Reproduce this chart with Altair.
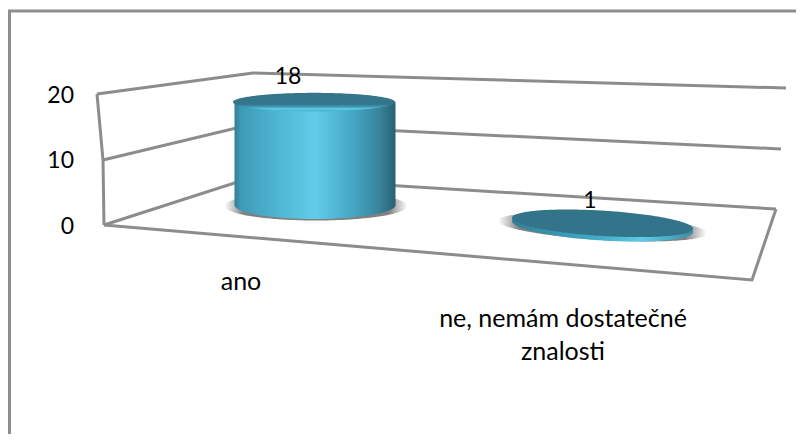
import numpy as np
import pandas as pd
import altair as alt

# chart values
categories = ["ano", "ne, nemám\u00a0dostatečné\nznalosti"]
values = [18, 1]
axis_ticks = [0, 10, 20]

W, H = 788, 426
FONT = "Lato"
LINE = "#8c8c8c"

# projected box of the 3D chart (screen pixels)
front_left = {0: (104, 225), 10: (103, 160), 20: (97, 94)}
back_left = {0: (253, 177), 10: (253, 124), 20: (253, 73)}
back_right = {0: (776, 209), 10: (781, 149), 20: (786, 88)}
front_right_floor = (752, 280)

# cylinders: centre x, base y, rx, base ry, top ry, px per unit, tilt
cyl = [
    dict(cx=315, base=205, rx=80.5, ry_b=14, ry_t=9.2, k=5.72, tilt=0.0),
    dict(cx=602.5, base=229, rx=90.5, ry_b=13.5, ry_t=13.2, k=4.2, tilt=0.06),
]

X = alt.X("x:Q", scale=alt.Scale(domain=[8, 8 + W], zero=False, nice=False), axis=None)
Y = alt.Y("y:Q", scale=alt.Scale(domain=[8 + H, 8], zero=False, nice=False), axis=None)
Y2 = alt.Y2("y2:Q")


def path_df(pts):
    return pd.DataFrame({"x": [p[0] for p in pts], "y": [p[1] for p in pts], "o": range(len(pts))})


def line(pts, color=LINE, width=3):
    return alt.Chart(path_df(pts)).mark_line(color=color, strokeWidth=width, clip=True).encode(
        x=X, y=Y, order="o:Q")


def ellipse(cx, cy, rx, ry, tilt=0.0, n=121):
    xs = cx + rx * np.cos(np.linspace(np.pi, 0, n))
    t = np.clip((xs - cx) / rx, -1, 1)
    h = ry * np.sqrt(1 - t**2)
    mid = cy + tilt * (xs - cx)
    return pd.DataFrame({"x": xs, "y": mid - h, "y2": mid + h})


def fill_area(df, color, **kw):
    return alt.Chart(df).mark_area(color=color, **kw).encode(x=X, y=Y, y2=Y2)


def grad(stops, x1=0, y1=0, x2=1, y2=0):
    return {"gradient": "linear", "x1": x1, "y1": y1, "x2": x2, "y2": y2,
            "stops": [{"offset": o, "color": c} for o, c in stops]}


def radial(stops):
    return {"gradient": "radial", "stops": [{"offset": o, "color": c} for o, c in stops]}


side_grad = grad([(0, "#2f7f97"), (0.04, "#3f9ab6"), (0.2, "#4aaecb"), (0.5, "#60cdea"),
                  (0.72, "#47a9c6"), (0.9, "#37849c"), (1, "#2a6072")])
rim_grad = grad([(0, "#34758b"), (0.62, "#34758b"), (0.76, "#3f9ab6"), (0.88, "#62cfeb"), (1, "#43a5c2")], 0, 0, 0, 1)
disc_rim_grad = grad([(0, "#2f7f97"), (0.5, "#45adca"), (0.72, "#5fcbe8"), (1, "#3a8da8")])
shadow = radial([(0, "#808080"), (0.8, "#808080"), (0.9, "#c4c4c4"), (1, "#ffffff")])

layers = [
    # outer chart frame
    line([(9.5, H + 8), (9.5, 11), (W + 8, 11)], "#8e8e8e", 3),
]

# walls and gridlines
for v in axis_ticks:
    layers.append(line([front_left[v], back_left[v], back_right[v]]))
layers.append(line([front_left[20], front_left[10], front_left[0]]))
layers.append(line([back_right[0], front_right_floor, front_left[0]]))

# cylinders
for i, (val, c) in enumerate(zip(values, cyl)):
    top = c["base"] - val * c["k"]
    if i == 0:
        layers.append(fill_area(ellipse(c["cx"] + 1, c["base"] + 1, c["rx"] + 11, c["ry_b"] + 0.5), shadow))
        b = ellipse(c["cx"], c["base"], c["rx"], c["ry_b"])
        t = ellipse(c["cx"] - 1, top, c["rx"] + 0.5, c["ry_t"])
        side = pd.DataFrame({"x": b["x"], "y": top, "y2": b["y2"]})
        layers.append(fill_area(side, side_grad))
        layers.append(fill_area(t, rim_grad))
    else:
        layers.append(fill_area(ellipse(c["cx"], c["base"] - 2, c["rx"] + 14, c["ry_b"] - 0.5, c["tilt"]), shadow))
        layers.append(fill_area(ellipse(c["cx"], c["base"] - 2.5, c["rx"], c["ry_b"] + 0.5, c["tilt"]), disc_rim_grad))
        layers.append(fill_area(ellipse(c["cx"], top - 1.5, c["rx"], c["ry_t"] - 0.5, c["tilt"]), "#34748a"))

# value labels
label_df = pd.DataFrame({"x": [288, 590], "y": [77, 200.5], "t": [str(v) for v in values]})
layers.append(alt.Chart(label_df).mark_text(font=FONT, fontSize=23, color="#000000", align="center", baseline="middle")
              .encode(x=X, y=Y, text="t:N"))

# value axis labels
tick_df = pd.DataFrame({"x": [74, 74, 74], "y": [227, 161, 96], "t": [str(v) for v in axis_ticks]})
layers.append(alt.Chart(tick_df).mark_text(font=FONT, fontSize=23, color="#000000", align="right", baseline="middle")
              .encode(x=X, y=Y, text="t:N"))

# category labels
cat_df = pd.DataFrame({"x": [241, 563], "y": [282, 318.5], "t": categories})
layers.append(alt.Chart(cat_df).mark_text(font=FONT, fontSize=25, color="#000000", align="center", baseline="middle",
                                          lineBreak="\n", lineHeight=33)
              .encode(x=X, y=Y, text="t:N"))

chart = alt.layer(*layers).properties(
    width=W, height=H, padding=0,
    autosize=alt.AutoSizeParams(type="none"),
    background="white",
).configure_view(stroke=None)

chart.save("out.html", embed_options={"renderer": "svg", "actions": False})
